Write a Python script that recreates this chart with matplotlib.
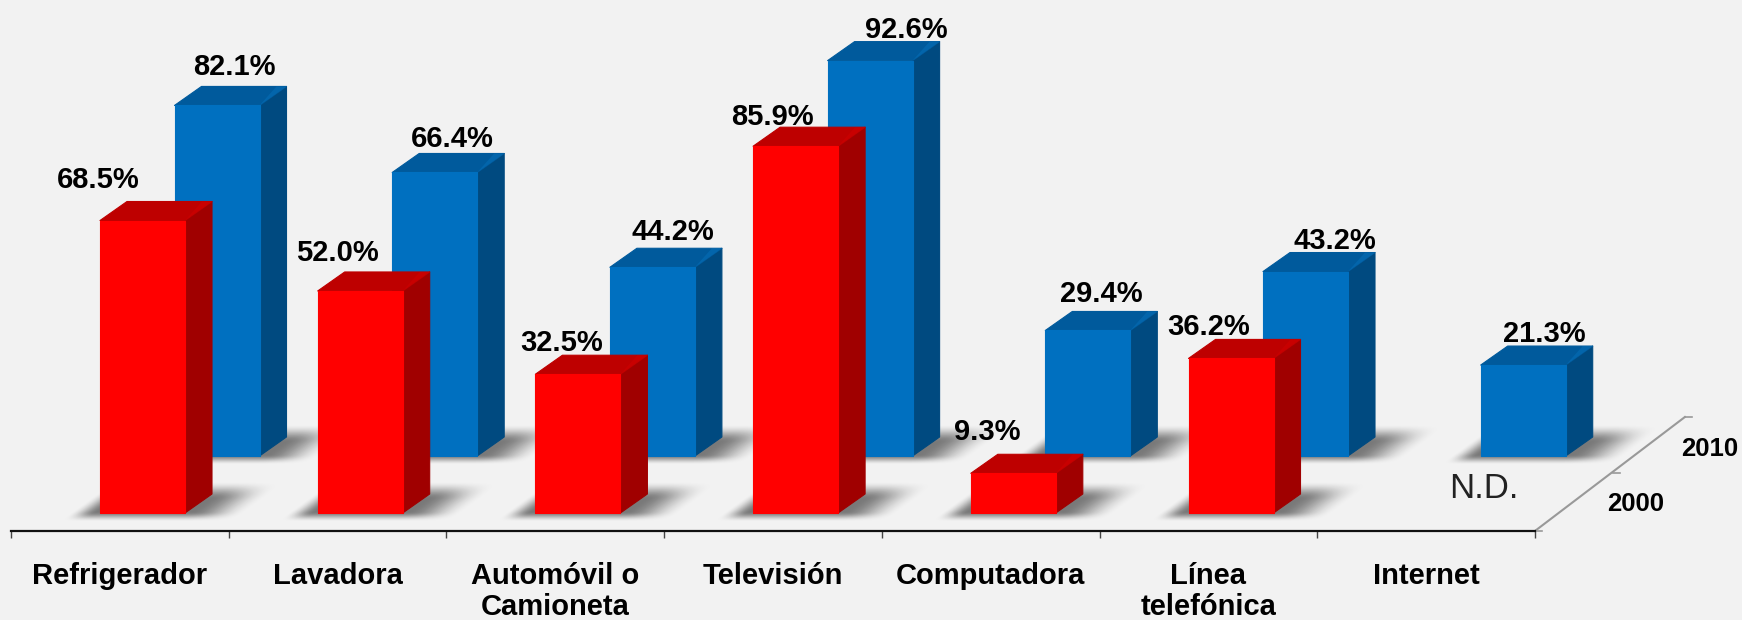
import numpy as np
import matplotlib
matplotlib.use("Agg")
import matplotlib.pyplot as plt
from matplotlib.patches import Polygon

plt.rcParams['font.family'] = ['Liberation Sans', 'DejaVu Sans']

categories = ["Refrigerador", "Lavadora", "Automóvil o\nCamioneta", "Televisión",
              "Computadora", "Línea\ntelefónica", "Internet"]
values_2000 = [68.5, 52.0, 32.5, 85.9, 9.3, 36.2, np.nan]
values_2010 = [82.1, 66.4, 44.2, 92.6, 29.4, 43.2, 21.3]
years = ["2000", "2010"]

# label offsets from the middle of the bar's top edge, in pixels
off_2000 = [(-44, 41), (-23, 38), (-16, 31), (-23, 29), (-26, 41), (-22, 31), (0, 0)]
off_2010 = [(17, 38), (18, 33), (20, 35), (36, 31), (14, 36), (29, 31), (21, 31)]

W, H = 1742, 620
PX_X = 217.7      # pixels per category
PX_Y = 4.27       # pixels per percent
X0 = 11
Y0 = 513          # baseline of the front row

fig = plt.figure(figsize=(W / 100, H / 100), dpi=100, facecolor="#F2F2F2")
ax = fig.add_axes([0, 0, 1, 1], facecolor="#F2F2F2")
ax.set_xlim(-X0 / PX_X, (W - X0) / PX_X)
ax.set_ylim((Y0 - H) / PX_Y, Y0 / PX_Y)
ax.set_autoscale_on(False)

bar_w = 85 / PX_X
left = 89 / PX_X
dx = 27 / PX_X     # depth of a bar
dy = 19 / PX_Y
row_dx = 74.5 / PX_X    # shift of the back row
row_dy = 57 / PX_Y


def smooth(a):
    a = np.clip(a, 0, 1)
    return a * a * (3 - 2 * a)


def shadow(x, base):
    # soft skewed patch under a bar, worked out in pixels from the bar's front corner
    u = np.arange(-45, 190)
    v = np.arange(-12, 40)
    uu, vv = np.meshgrid(u, v)
    s = uu - vv * 27 / 20
    a = smooth((vv + 9) / 10) * smooth((32 - vv) / 18)
    a = a * smooth((s + 30) / 26) * smooth((145 - s) / 55) * 0.5
    img = np.zeros(a.shape + (4,))
    img[..., 3] = a
    ax.imshow(img, origin="lower", aspect="auto", interpolation="bilinear", zorder=1,
              extent=[x + u[0] / PX_X, x + u[-1] / PX_X, base + v[0] / PX_Y, base + v[-1] / PX_Y])


def draw_row(values, xshift, base, c_front, c_side, c_top, c_edge, z, offsets):
    for i, v in enumerate(values):
        if np.isnan(v):
            continue
        x = i + left + xshift
        shadow(x, base)
        top = base + v
        ax.add_patch(Polygon([(x + bar_w, base), (x + bar_w + dx, base + dy),
                              (x + bar_w + dx, top + dy), (x + bar_w, top)], closed=True,
                             facecolor=c_side, edgecolor=c_side, lw=0.8, joinstyle="round", zorder=z))
        ax.add_patch(Polygon([(x, top), (x + dx, top + dy), (x + bar_w + dx, top + dy), (x + bar_w, top)],
                             closed=True, facecolor=c_top, edgecolor=c_top, lw=0.8,
                             joinstyle="round", zorder=z))
        # lighter corner of the top face
        ax.add_patch(Polygon([(x + bar_w, top), (x + bar_w + dx - 10 / PX_X, top + dy),
                              (x + bar_w + dx, top + dy), (x + bar_w, top)], closed=True,
                             facecolor=c_edge, edgecolor="none", alpha=0.3, zorder=z))
        ax.bar(x, v, bar_w, bottom=base, align="edge", color=c_front, edgecolor=c_front,
               linewidth=0.8, joinstyle="round", zorder=z + 0.1)
        ax.annotate(f"{v:.1f}%", (x + bar_w / 2, top), xytext=(offsets[i][0] * 0.72, offsets[i][1] * 0.72),
                    textcoords="offset points", ha="center", va="center",
                    fontsize=21, fontweight="bold", color="black", zorder=10)


draw_row(values_2010, row_dx, row_dy, "#0070C0", "#004A80", "#005A9C", "#0A80D0", 3, off_2010)
draw_row(values_2000, 0, 0, "#FF0000", "#A00000", "#BE0000", "#E00000", 5, off_2000)

# N.D. where Internet has no 2000 value
ax.text((1484 - X0) / PX_X, (Y0 - 489) / PX_Y, "N.D.", fontsize=25,
        color="#222222", ha="center", va="center", zorder=6)

# category axis
axis_y = (Y0 - 531) / PX_Y
for s in ["top", "left", "right"]:
    ax.spines[s].set_visible(False)
ax.spines["bottom"].set_position(("data", axis_y))
ax.spines["bottom"].set_bounds(0, 7)
ax.spines["bottom"].set_linewidth(1.6)
ax.spines["bottom"].set_color("#111111")
ax.set_yticks([])
ax.set_xticks(np.arange(8))
ax.set_xticklabels([])
ax.set_xticks(np.arange(7) + 0.5, minor=True)
ax.set_xticklabels(categories, minor=True, fontsize=21, fontweight="bold", linespacing=1.15)
ax.tick_params(axis="x", which="major", length=5, width=1, color="#444444", direction="out")
ax.tick_params(axis="x", which="minor", length=0, pad=22)

# depth axis
ax.plot([7, 7 + 150 / PX_X], [axis_y, axis_y + 114 / PX_Y], color="#999999", lw=1.5, zorder=2)
ax.plot([7, 7 + 7 / PX_X], [axis_y, axis_y], color="#999999", lw=1.2, zorder=2)
ax.plot([7 + 78 / PX_X, 7 + 85 / PX_X], [axis_y + 58 / PX_Y] * 2, color="#999999", lw=1.2, zorder=2)
ax.plot([7 + 150 / PX_X, 7 + 157 / PX_X], [axis_y + 114 / PX_Y] * 2, color="#999999", lw=1.2, zorder=2)
ax.text(7 + 101 / PX_X, (Y0 - 504) / PX_Y, years[0], fontsize=18.5, fontweight="bold", ha="center", va="center")
ax.text(7 + 175 / PX_X, (Y0 - 449) / PX_Y, years[1], fontsize=18.5, fontweight="bold", ha="center", va="center")

fig.savefig("out.png", dpi=100, facecolor=fig.get_facecolor())
